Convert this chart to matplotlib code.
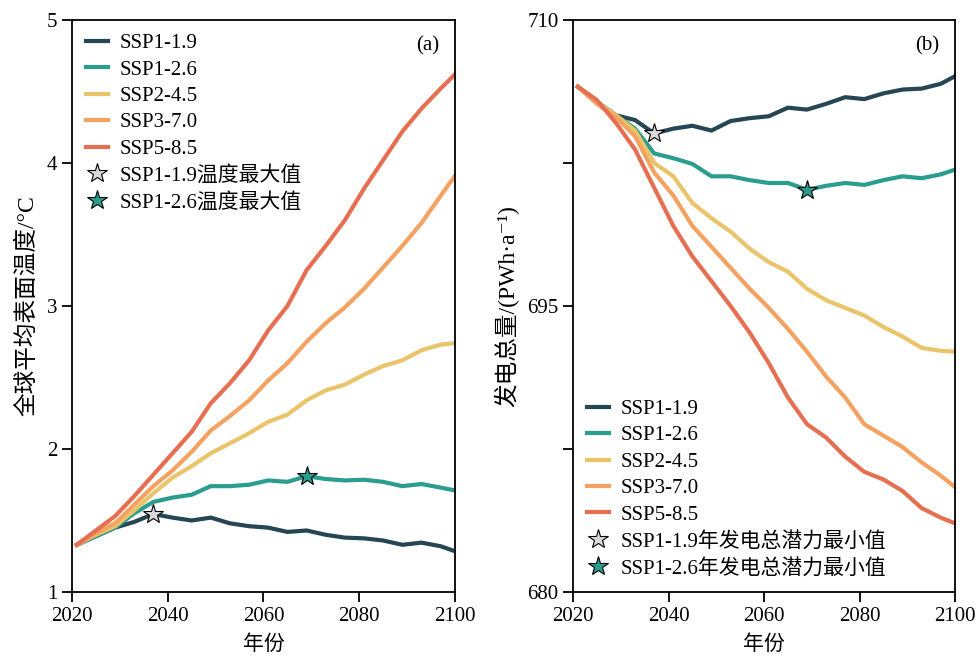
import matplotlib
matplotlib.use("Agg")
import matplotlib.pyplot as plt
from matplotlib.ticker import MultipleLocator, FixedLocator
import numpy as np

plt.rcParams["font.family"] = ["Liberation Serif", "Noto Sans CJK SC", "DejaVu Serif"]
plt.rcParams["axes.unicode_minus"] = False

years = [2021, 2025, 2029, 2033, 2037, 2041, 2045, 2049, 2053, 2057, 2061,
         2065, 2069, 2073, 2077, 2081, 2085, 2089, 2093, 2097, 2100]

scenarios = ["SSP1-1.9", "SSP1-2.6", "SSP2-4.5", "SSP3-7.0", "SSP5-8.5"]
colors = ["#264653", "#2a9d8f", "#e9c46a", "#f4a261", "#e76f51"]

# (a) global mean surface temperature, degC
temp_ssp119 = [1.33, 1.39, 1.45, 1.49, 1.545, 1.52, 1.50, 1.52, 1.48, 1.46, 1.45,
               1.42, 1.43, 1.40, 1.38, 1.375, 1.36, 1.33, 1.345, 1.32, 1.285]
temp_ssp126 = [1.33, 1.39, 1.45, 1.55, 1.63, 1.66, 1.68, 1.74, 1.74, 1.75, 1.78,
               1.77, 1.81, 1.79, 1.78, 1.785, 1.77, 1.74, 1.755, 1.73, 1.71]
temp_ssp245 = [1.33, 1.40, 1.46, 1.57, 1.69, 1.80, 1.88, 1.97, 2.04, 2.11, 2.19,
               2.24, 2.34, 2.41, 2.45, 2.52, 2.58, 2.62, 2.69, 2.73, 2.74]
temp_ssp370 = [1.33, 1.41, 1.48, 1.61, 1.74, 1.85, 1.98, 2.13, 2.23, 2.34, 2.48,
               2.60, 2.75, 2.88, 2.99, 3.12, 3.27, 3.42, 3.58, 3.77, 3.91]
temp_ssp585 = [1.33, 1.43, 1.53, 1.67, 1.82, 1.97, 2.12, 2.32, 2.46, 2.62, 2.83,
               3.00, 3.25, 3.42, 3.60, 3.82, 4.02, 4.22, 4.38, 4.52, 4.62]

# (b) total power generation, PWh/a
power_ssp119 = [706.5, 705.7, 705.0, 704.75, 704.05, 704.3, 704.45, 704.2, 704.7, 704.85, 704.95,
                705.4, 705.3, 705.6, 705.95, 705.85, 706.15, 706.35, 706.4, 706.65, 707.05]
power_ssp126 = [706.5, 705.7, 705.0, 704.3, 703.0, 702.75, 702.45, 701.8, 701.8, 701.6, 701.45,
                701.45, 701.1, 701.3, 701.45, 701.35, 701.6, 701.8, 701.7, 701.9, 702.15]
power_ssp245 = [706.5, 705.7, 705.0, 704.2, 702.5, 701.8, 700.4, 699.6, 698.9, 698.0, 697.3,
                696.8, 695.9, 695.3, 694.9, 694.5, 693.9, 693.4, 692.8, 692.65, 692.6]
power_ssp370 = [706.5, 705.6, 704.9, 703.9, 702.0, 700.8, 699.2, 698.1, 697.0, 695.9, 694.9,
                693.8, 692.6, 691.3, 690.2, 688.8, 688.2, 687.6, 686.8, 686.1, 685.5]
power_ssp585 = [706.5, 705.8, 704.6, 703.2, 701.2, 699.2, 697.6, 696.3, 695.0, 693.6, 692.0,
                690.2, 688.8, 688.1, 687.1, 686.3, 685.9, 685.3, 684.4, 683.9, 683.6]

temps = [temp_ssp119, temp_ssp126, temp_ssp245, temp_ssp370, temp_ssp585]
powers = [power_ssp119, power_ssp126, power_ssp245, power_ssp370, power_ssp585]

FS = 15

fig = plt.figure(figsize=(9.78, 6.59), dpi=100)
ax1 = fig.add_axes([0.0736, 0.1017, 0.3916, 0.868])
ax2 = fig.add_axes([0.5859, 0.1017, 0.3906, 0.868])


def style(ax):
    for s in ax.spines.values():
        s.set_linewidth(1.3)
    ax.tick_params(which="both", direction="out", length=7, width=1.3, labelsize=FS)
    ax.set_xlim(2020, 2100)
    ax.xaxis.set_major_locator(MultipleLocator(20))
    ax.set_xlabel("年份", fontsize=FS, labelpad=7)


# panel (a)
for name, c, t in zip(scenarios, colors, temps):
    ax1.plot(years, t, color=c, lw=3, label=name)
i1 = int(np.argmax(temp_ssp119))
i2 = int(np.argmax(temp_ssp126))
ax1.plot(years[i1], temp_ssp119[i1], ls="none", marker="*", ms=15, mfc="#d9d9d9",
         mec="black", mew=0.8, label="SSP1-1.9温度最大值", zorder=5)
ax1.plot(years[i2], temp_ssp126[i2], ls="none", marker="*", ms=15, mfc="#2a9d8f",
         mec="black", mew=0.8, label="SSP1-2.6温度最大值", zorder=5)
style(ax1)
ax1.set_ylim(1, 5)
ax1.yaxis.set_major_locator(MultipleLocator(1))
ax1.set_ylabel("全球平均表面温度/°C", fontsize=17, labelpad=6)
ax1.text(0.96, 0.955, "(a)", transform=ax1.transAxes, ha="right", va="center", fontsize=FS)
ax1.legend(loc="upper left", frameon=False, fontsize=FS, handlelength=1.1,
           handletextpad=0.55, labelspacing=0.33, borderaxespad=0.35,
           borderpad=0.3)

# panel (b)
for name, c, p in zip(scenarios, colors, powers):
    ax2.plot(years, p, color=c, lw=3, label=name)
j1 = int(np.argmin(power_ssp119))
j2 = int(np.argmin(power_ssp126))
ax2.plot(years[j1], power_ssp119[j1], ls="none", marker="*", ms=15, mfc="#d9d9d9",
         mec="black", mew=0.8, label="SSP1-1.9年发电总潜力最小值", zorder=5)
ax2.plot(years[j2], power_ssp126[j2], ls="none", marker="*", ms=15, mfc="#2a9d8f",
         mec="black", mew=0.8, label="SSP1-2.6年发电总潜力最小值", zorder=5)
style(ax2)
ax2.set_ylim(680, 710)
ax2.yaxis.set_major_locator(FixedLocator([680, 695, 710]))
ax2.yaxis.set_minor_locator(FixedLocator([687.5, 702.5]))
ax2.set_ylabel("发电总量/(PWh·a⁻¹)", fontsize=17, labelpad=6)
ax2.text(0.96, 0.955, "(b)", transform=ax2.transAxes, ha="right", va="center", fontsize=FS)
ax2.legend(loc="lower left", frameon=False, fontsize=FS, handlelength=1.1,
           handletextpad=0.55, labelspacing=0.33, borderaxespad=0.35,
           borderpad=0.3)

fig.savefig("out.png", dpi=100)
plt.close(fig)
